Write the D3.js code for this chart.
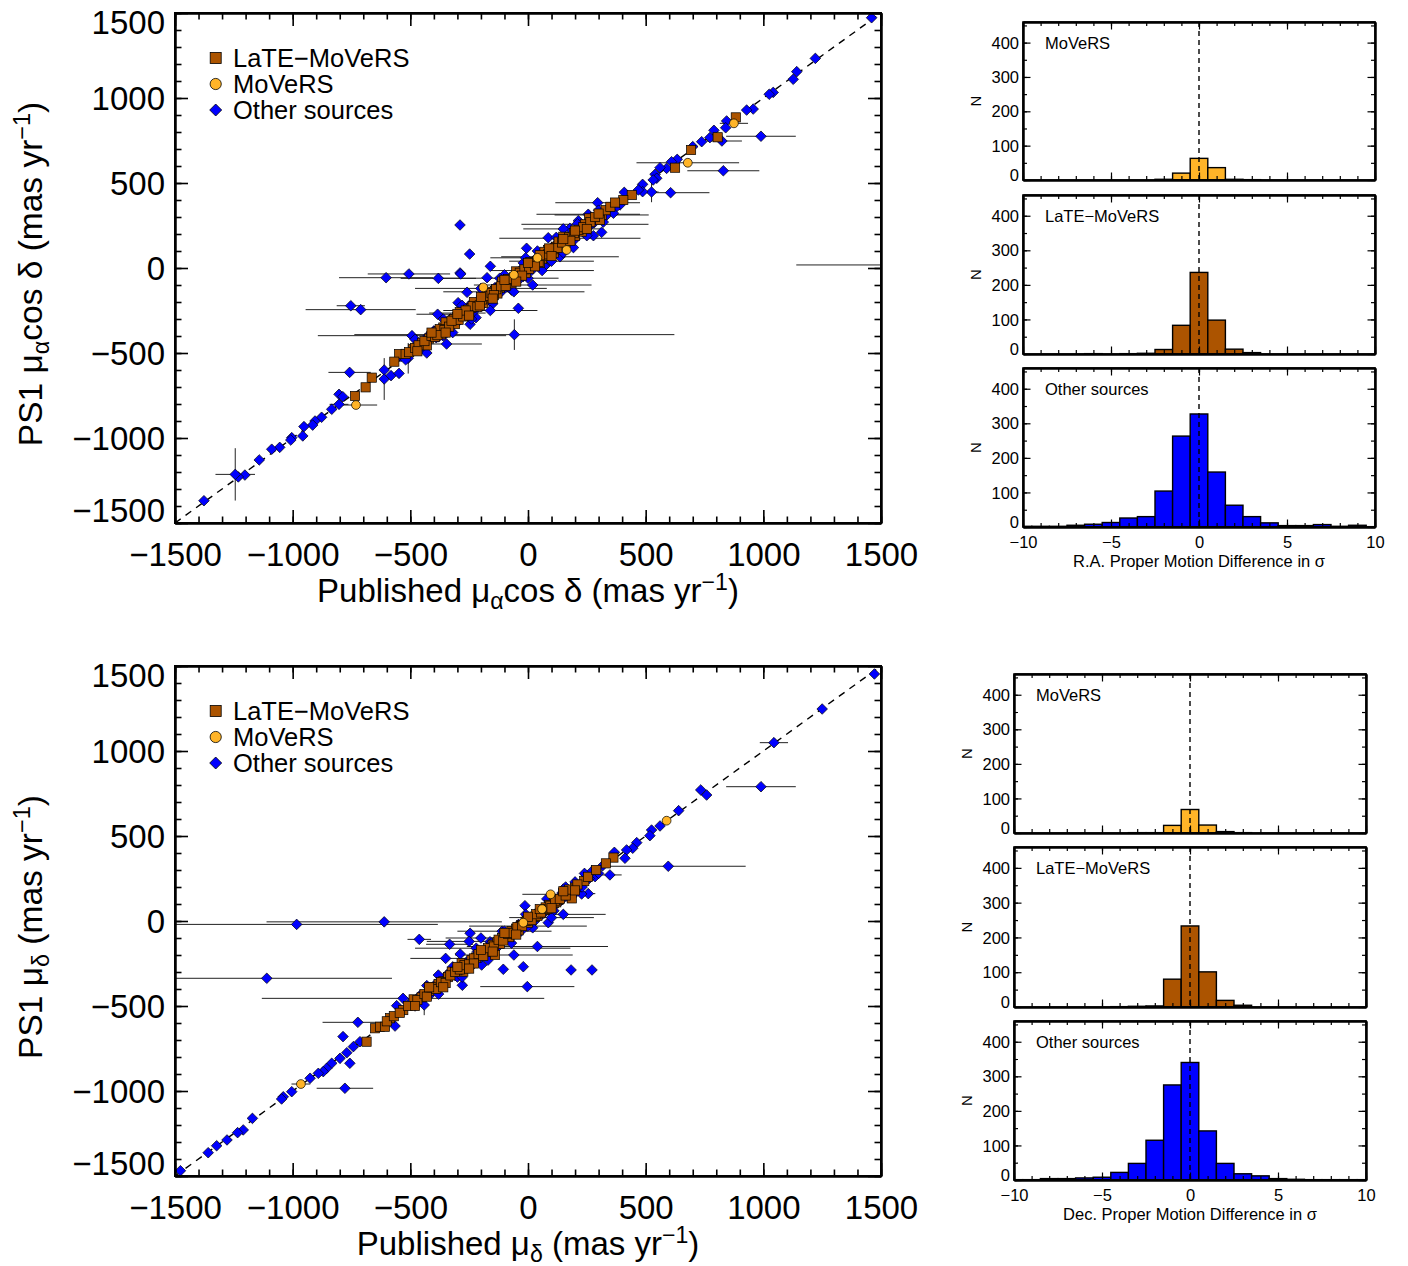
<!DOCTYPE html>
<html><head><meta charset="utf-8">
<script src="https://cdn.jsdelivr.net/npm/d3@7"></script>
<style>body{margin:0;background:#fff}svg{font-family:"Liberation Sans",Arial,Helvetica,sans-serif}</style>
</head><body><svg id="c" width="1408" height="1266"></svg>
<script>
// ---------------- DATA ----------------
// scatter points: [published, PS1, xerr, yerr]
const raLate = [[-664,-645],[-690,-702],[-735,-753],[-548,-506],[-568,-551],[-489,-478],[883,886],[806,769],[693,694],[625,590],[441,429],[405,400],[313,312,200,0],[259,292],[306,282],[242,257,270,0],[228,214],[150,184],[86,106],
 [-450,-440],[-420,-415],[-400,-390],[-380,-372],[-360,-350],[-340,-335],[-320,-318],[-300,-290],[-280,-275],[-260,-262],[-240,-235],[-220,-215],[-200,-190],[-180,-178],[-160,-160],[-140,-135],[-120,-118],[-100,-95],[-80,-82],[-60,-55],[-40,-38],[-20,-22],[0,5],[20,15],[40,42],[60,55],[80,78],[100,98],[120,125],[140,135],[170,165],[200,190],[-430,-455],[-370,-390],[-310,-330],[-250,-270],[-190,-205],[-130,-150],[-70,-90],[-10,-30],[50,30],[110,90],[160,140],[-350,-320],[-290,-260],[-230,-200],[-170,-140],[-110,-80],[-50,-20],[10,35],[70,95],[130,155],
 [-520,-505],[-505,-495],[-480,-470],[-465,-455],[-440,-430],[-410,-400],[-395,-405],[-375,-360],[-355,-365],[-335,-345],[-315,-300],[-295,-305],[-275,-285],[-255,-245],[-235,-225],[-215,-228],[-195,-185],[-175,-165],[-155,-148],[-135,-125],[-115,-108],[-95,-105],[-75,-68],[-55,-62],[-35,-28],[-15,-8],[5,-5],[25,30],[45,35],[65,70],[85,80],[105,110],[125,118],[145,150],[175,180],[195,205],[215,225],[235,240],[265,270],[285,300],[330,340],[350,360],[370,385],[-25,-45],[-85,-65],[-145,-160],[-205,-220],[-265,-250],[-325,-310],[-385,-395],[30,10],[90,115],[180,160],
 [-470,-490],[-410,-380],[-350,-380],[-300,-270],[-250,-280],[-200,-170],[-150,-180],[-100,-70],[-50,-80],[0,30],[50,75],[100,70],[150,170],[200,220],[250,230],[300,320]];
const raMovers = [[-190,-114],[-731,-806,90,0],[875,851,60,0],[679,619,218,0],[164,106],[-60,-40],[40,60]];
const raOther = [[-289,253],[-248,82],[-160,10],[-289,-29],[-506,-35,175,0],[-603,-57,200,0],[-381,-61,160,0],[-286,-35],[-174,-57],[-753,-222,60,0],[-711,-245,234,0],[-259,-143],[-297,-204],[-384,-272,90,0],[-246,-331],[-221,-292],[-41,-237],[-58,-392,680,90],[-493,-398,400,0],[-346,-447,150,0],[-758,-614,90,0],[-611,-600],[-611,-653,0,123],[-582,-633],[-548,-620],[-509,-531,0,90],
 [-803,-743],[-787,-757],[-803,-802,40,0],[-834,-831],[-877,-878],[-905,-900],[-915,-924],[-952,-933],[-957,-988],[-1004,-998],[-1008,-1012],[-1055,-1055],[-1089,-1066],[-1142,-1129],[-1203,-1218],[-1231,-1229],[-1244,-1214,84,154],[-1377,-1369],
 [1460,1472],[1221,1233],[1142,1155],[1127,1110],[1042,1033],[1025,1022],[957,935],[929,929],[844,865],[840,825],[990,775,148,0],[790,810],[824,747,85,0],[773,767],[738,743],[700,714],[830,572,153,0],[634,639],[610,625],[589,586],[561,590],[540,551],[547,528],[532,518],[606,443,165,0],[525,447,30,60],[487,492],[487,449],[469,459],[409,445],[296,384,180,0],[391,371],[370,351],[363,322],[256,316,220,0],[214,278],[313,210],[278,190],[178,233],[178,175,300,0],[193,120],[136,66,250,0],[86,178],[-6,116],[72,14],[1720,18,580,0],
 [-470,-450],[-440,-470],[-390,-410],[-350,-370],[-330,-300],[-300,-320],[-270,-250],[-230,-255],[-210,-190],[-180,-200],[-150,-170],[-120,-100],[-90,-110],[-60,-70],[-30,-10],[-20,-50],[10,-10],[30,50],[50,20],[80,60],[100,120],[110,80],[150,150],[190,200],[220,230],[250,240],[-400,-370],[-360,-400],
 [-540,-520],[-520,-540],[-455,-480],[-425,-400],[-405,-380],[-380,-405],[-345,-360],[-325,-340],[-290,-275],[-260,-280],[-245,-215],[-200,-225],[-185,-160],[-165,-190],[-140,-115],[-110,-135],[-95,-75],[-75,-100],[-45,-25],[-35,-65],[-5,15],[15,-15],[35,20],[60,85],[90,65],[120,140],[140,110],[160,185],[200,170],[235,210],[260,245],[280,265],[330,305],[340,350],
 [-480,-420],[-430,-500],[-360,-300],[-320,-380],[-280,-220],[-240,-300],[-190,-130],[-150,-210],[-100,-40],[-70,-130],[-20,30],[0,-60],[40,100],[70,10],[120,180],[150,90],[210,260],[250,190],[300,340],[320,270],
 [-60,-140,300,0],[-120,-60,250,0],[-200,-120,280,0],[-160,-250,200,0],[20,-100,250,0],[-300,-265,120,0],[60,-15,220,0],[100,40,180,0],[-10,60,150,0],[150,230,170,0]];

const decLate = [[-686,-710],[-650,-631],[-629,-622],[-586,-572],[-608,-622],[-530,-524],[-486,-461],[-452,-449],[-324,-298],[-275,-298],[-282,-249],[-265,-278],[-197,-200],[-176,-180],[363,373],[331,339],[239,235],[200,196],[186,133],
 [-420,-410],[-400,-395],[-380,-370],[-360,-355],[-340,-330],[-300,-290],[-240,-230],[-220,-215],[-150,-140],[-130,-125],[-110,-100],[-90,-85],[-70,-60],[-50,-45],[-30,-25],[-10,-5],[10,15],[30,25],[50,45],[70,65],[90,95],[110,105],[130,125],[150,160],[-200,-185],[-160,-170],[-120,-135],[-80,-95],[-40,-55],[0,-10],[40,30],[80,70],[120,110],
 [-600,-590],[-570,-560],[-545,-540],[-510,-500],[-470,-465],[-440,-430],[-430,-445],[-410,-390],[-390,-400],[-370,-360],[-350,-365],[-330,-320],[-310,-300],[-290,-285],[-270,-260],[-250,-255],[-230,-220],[-210,-195],[-190,-205],[-170,-160],[-145,-150],[-125,-110],[-105,-115],[-85,-75],[-65,-70],[-45,-35],[-25,-30],[-5,0],[15,5],[35,40],[55,50],[75,80],[95,90],[115,120],[135,130],[160,150],[175,185],[210,215],[255,260],[290,300],[-140,-200],[-230,-250],
 [-480,-500],[-420,-390],[-360,-390],[-300,-270],[-250,-280],[-200,-170],[-150,-180],[-100,-70],[-50,-80],[0,25],[50,70],[100,75],[150,175],[200,180]];
const decMovers = [[-965,-959,40,0],[589,590],[96,157,120,0],[-20,-10],[60,70]];
const decOther = [[-983,-20,600,0],[-611,-5,500,0],[-1110,-337,532,0],[-531,-455,600,0],[-462,-108,50,0],[-333,-137,100,0],[-246,-72],[-288,-194],[-723,-596,150,0],[-786,-680],[-757,-837],[-778,-984,120,0],
 [-714,-710],[-770,-775],[-742,-739],[-799,-808],[-834,-837],[-856,-867],[-870,-886],[-891,-896],[-926,-925],[-1004,-1004],[-1040,-1034],[-1047,-1047],[-1171,-1161],[-1210,-1229],[-1234,-1245],[-1279,-1288],[-1323,-1322],[-1359,-1363],[-1477,-1469],
 [-565,-618],[-441,-494,0,60],[-558,-498],[-381,-318],[-279,-378],[-105,-284],[-20,-269],[-3,-386,200,0],[-197,-259],[-161,-122],[183,-288],[272,-288],
 [1472,1453],[1250,1247],[1045,1049,60,0],[990,790,148,0],[734,771],[759,741],[640,649],[561,559],[525,535],[518,502],[462,461],[445,428],[419,418],[412,369],[367,404],[596,322,329,0],[348,271,50,0],[317,325],[285,261],[249,266],[150,188],[256,161,30,0],[228,159],[150,39,180,0],[-13,90],[86,-10],
 [-350,-340],[-310,-320],[-250,-240],[-200,-215],[-140,-160],[-100,-80],[-60,-75],[-20,-35],[20,0],[60,40],[100,80],[140,120],[180,170],[220,200],[260,250],
 [-500,-480],[-480,-500],[-460,-440],[-420,-440],[-395,-375],[-360,-380],[-340,-310],[-300,-330],[-260,-240],[-240,-265],[-215,-180],[-180,-210],[-155,-130],[-130,-155],[-95,-70],[-75,-100],[-40,-20],[-30,-60],[5,20],[25,-5],[45,60],[70,50],[95,110],[120,100],[145,165],[170,140],[200,230],[230,200],[270,290],[300,280],
 [-430,-380],[-380,-430],[-320,-270],[-280,-330],[-220,-160],[-170,-230],[-110,-60],[-70,-130],[-10,40],[20,-40],[80,130],[110,60],[160,200],[190,150],[240,280],
 [-250,-120,180,0],[-150,-160,330,0],[-60,-200,250,0],[-200,-100,150,0],[40,-150,300,0],[-100,-60,200,0],[0,-30,250,0],[100,20,180,0],[-350,-220,150,0]];

// histogram counts, bins centred on -10 ... 10 (sigma)
const binCenters = [-10,-9,-8,-7,-6,-5,-4,-3,-2,-1,0,1,2,3,4,5,6,7,8,9,10];
const raHistMovers = [0,0,0,0,0,0,0,0,2,20,63,36,2,1,0,0,0,0,0,0,0];
const raHistLate   = [0,0,0,0,1,0,1,2,13,83,236,98,14,4,0,0,0,0,0,0,0];
const raHistOther  = [2,2,2,5,8,13,26,30,104,263,327,159,63,30,12,4,4,7,2,5,1];
const decHistMovers= [0,0,0,0,0,0,0,1,1,22,68,23,4,1,0,0,0,0,0,0,0];
const decHistLate  = [0,0,0,0,0,0,1,2,3,80,233,101,19,5,0,0,0,0,0,0,0];
const decHistOther = [1,1,4,4,6,8,22,48,115,275,340,142,48,18,12,4,2,1,1,1,1];

const scatterTicks = [-1500,-1000,-500,0,500,1000,1500];
const histXTicks = [-10,-5,0,5,10];
const histYTicks = [0,100,200,300,400];
const legendLabels = ['LaTE\u2212MoVeRS','MoVeRS','Other sources'];

// ---------------- DRAWING ----------------
const COL = {late:'#AC5400', movers:'#FFB428', other:'#0000FF'};
const svg = d3.select('#c');
const minus = d => String(d).replace('-', '\u2212');

function rich(sel, parts, fs){
  let cur = 0;
  parts.forEach(p=>{
    const t = sel.append('tspan').text(p.t);
    let target = 0, size = fs;
    if(p.sub){target = fs*0.22; size = fs*0.7;}
    if(p.sup){target = -fs*0.37; size = fs*0.7;}
    t.attr('font-size', size).attr('dy', target-cur);
    cur = target;
  });
}

function styleAxis(g, fs){
  g.attr('font-family', null).attr('font-size', fs);
  g.selectAll('.domain').attr('stroke','#000').attr('stroke-width',2);
  g.selectAll('.tick line').attr('stroke','#000');
  g.selectAll('.tick text').attr('fill','#000');
}

function boxAxes(x, y, o){
  const {x0,x1,y0,y1} = o;
  const g = svg.append('g');
  const mk = (axis, tr, vals, len, fmt, pad, fs) => {
    const a = g.append('g').attr('transform', tr)
      .call(axis.tickValues(vals).tickSizeInner(-len).tickSizeOuter(0).tickPadding(pad).tickFormat(fmt));
    styleAxis(a, fs);
    a.selectAll('.tick line').attr('stroke-width', o.tw);
    return a;
  };
  mk(d3.axisBottom(x), `translate(0,${y1})`, o.xMinor, o.minLen, '', 0, 10);
  mk(d3.axisTop(x), `translate(0,${y0})`, o.xMinor, o.minLen, '', 0, 10);
  mk(d3.axisLeft(y), `translate(${x0},0)`, o.yMinor, o.minLen, '', 0, 10);
  mk(d3.axisRight(y), `translate(${x1},0)`, o.yMinor, o.minLen, '', 0, 10);
  const b = mk(d3.axisBottom(x), `translate(0,${y1})`, o.xMajor, o.majLen, o.xFmt, o.xPad, o.fs);
  mk(d3.axisTop(x), `translate(0,${y0})`, o.xMajor, o.majLen, '', 0, 10);
  const l = mk(d3.axisLeft(y), `translate(${x0},0)`, o.yMajor, o.majLen, o.yFmt, o.yPad, o.fs);
  mk(d3.axisRight(y), `translate(${x1},0)`, o.yMajor, o.majLen, '', 0, 10);
  g.append('rect').attr('x',x0).attr('y',y0).attr('width',x1-x0).attr('height',y1-y0)
    .attr('fill','none').attr('stroke','#000').attr('stroke-width',o.bw);
  return {b,l};
}

const diamond = r => `M0,${-r}L${r},0L0,${r}L${-r},0Z`;

function scatterPanel(o){
  const x = d3.scaleLinear().domain([-1500,1500]).range([o.x0,o.x1]);
  const y = d3.scaleLinear().domain([-1500,1500]).range([o.y1,o.y0]);
  const cid = 'clip'+o.id;
  svg.append('clipPath').attr('id',cid).append('rect')
    .attr('x',o.x0).attr('y',o.y0).attr('width',o.x1-o.x0).attr('height',o.y1-o.y0);
  const p = svg.append('g').attr('clip-path',`url(#${cid})`);
  p.append('line').attr('x1',x(-1500)).attr('y1',y(-1500)).attr('x2',x(1500)).attr('y2',y(1500))
    .attr('stroke','#000').attr('stroke-width',1.4).attr('stroke-dasharray','7,6');
  const all = [].concat(o.other, o.late, o.movers);
  p.selectAll('.ex').data(all.filter(d=>d[2]>0)).join('line')
    .attr('x1',d=>x(d[0]-d[2])).attr('x2',d=>x(d[0]+d[2])).attr('y1',d=>y(d[1])).attr('y2',d=>y(d[1]))
    .attr('stroke','#222').attr('stroke-width',1);
  p.selectAll('.ey').data(all.filter(d=>d[3]>0)).join('line')
    .attr('x1',d=>x(d[0])).attr('x2',d=>x(d[0])).attr('y1',d=>y(d[1]-d[3])).attr('y2',d=>y(d[1]+d[3]))
    .attr('stroke','#222').attr('stroke-width',1);
  p.selectAll('.o').data(o.other).join('path')
    .attr('transform',d=>`translate(${x(d[0])},${y(d[1])})`).attr('d',diamond(5.3))
    .attr('fill',COL.other).attr('stroke','#000').attr('stroke-width',0.7);
  p.selectAll('.l').data(o.late).join('rect')
    .attr('x',d=>x(d[0])-4.6).attr('y',d=>y(d[1])-4.6).attr('width',9.2).attr('height',9.2)
    .attr('fill',COL.late).attr('stroke','#000').attr('stroke-width',0.7);
  p.selectAll('.m').data(o.movers).join('circle')
    .attr('cx',d=>x(d[0])).attr('cy',d=>y(d[1])).attr('r',4.4)
    .attr('fill',COL.movers).attr('stroke','#000').attr('stroke-width',0.7);

  const minor = d3.range(-1500,1501,100);
  const ax = boxAxes(x, y, {x0:o.x0,x1:o.x1,y0:o.y0,y1:o.y1, xMajor:scatterTicks, yMajor:scatterTicks,
    xMinor:minor, yMinor:minor, majLen:13, minLen:6.5, tw:1.6, bw:2, fs:33, xPad:20, yPad:10,
    xFmt:minus, yFmt:minus});
  ax.l.selectAll('.tick text').attr('dy', d => d===1500 ? '0.62em' : d===-1500 ? '-0.05em' : '0.34em');

  const lg = svg.append('g');
  legendLabels.forEach((t,i)=>{
    const cy = o.y0 + 45 + i*26, cx = 215.7;
    if(i===0) lg.append('rect').attr('x',cx-5.5).attr('y',cy-5.5).attr('width',11).attr('height',11)
      .attr('fill',COL.late).attr('stroke','#000').attr('stroke-width',0.8);
    if(i===1) lg.append('circle').attr('cx',cx).attr('cy',cy).attr('r',5.6)
      .attr('fill',COL.movers).attr('stroke','#000').attr('stroke-width',0.8);
    if(i===2) lg.append('path').attr('transform',`translate(${cx},${cy})`).attr('d',diamond(6))
      .attr('fill',COL.other).attr('stroke','#000').attr('stroke-width',0.8);
    lg.append('text').attr('x',233).attr('y',cy+8.5).attr('font-size',25.5).text(t);
  });
  const xt = svg.append('text').attr('x',(o.x0+o.x1)/2).attr('y',o.y1+79).attr('text-anchor','middle').attr('font-size',33);
  rich(xt, o.xTitle, 33);
  const yt = svg.append('text').attr('transform',`translate(42,${(o.y0+o.y1)/2+6}) rotate(-90)`).attr('text-anchor','middle').attr('font-size',33.5);
  rich(yt, o.yTitle, 33.5);
}

function histPanel(o){
  const x = d3.scaleLinear().domain([-10,10]).range([o.x0,o.x1]);
  const y = d3.scaleLinear().domain([0,460]).range([o.y1,o.y0]);
  const cid = 'hclip'+o.id;
  svg.append('clipPath').attr('id',cid).append('rect')
    .attr('x',o.x0).attr('y',o.y0).attr('width',o.x1-o.x0).attr('height',o.y1-o.y0);
  const p = svg.append('g').attr('clip-path',`url(#${cid})`);
  const bins = binCenters.map((c,i)=>({c, n:o.counts[i]})).filter(d=>d.n>0);
  p.selectAll('rect').data(bins).join('rect')
    .attr('x',d=>x(d.c-0.5)).attr('width',d=>x(d.c+0.5)-x(d.c-0.5))
    .attr('y',d=>y(d.n)).attr('height',d=>y(0)-y(d.n))
    .attr('fill',o.color).attr('stroke','#000').attr('stroke-width',1.4);
  p.append('line').attr('x1',x(0)).attr('x2',x(0)).attr('y1',o.y0).attr('y2',o.y1)
    .attr('stroke','#000').attr('stroke-width',1.4).attr('stroke-dasharray','5,4');
  const ax = boxAxes(x, y, {x0:o.x0,x1:o.x1,y0:o.y0,y1:o.y1, xMajor:histXTicks, yMajor:histYTicks,
    xMinor:d3.range(-10,11,1), yMinor:d3.range(0,451,50), majLen:7.5, minLen:4, tw:1.2, bw:1.6, fs:16.5,
    xPad:9, yPad:4, xFmt:o.showX ? minus : '', yFmt:minus});
  ax.l.selectAll('.tick text').attr('dy', d => d===0 ? '0.0em' : '0.34em');
  svg.append('text').attr('x',o.x0+22).attr('y',o.y0+27).attr('font-size',16.5).text(o.label);
  svg.append('text').attr('transform',`translate(${o.x0-42},${(o.y0+o.y1)/2}) rotate(-90)`)
    .attr('text-anchor','middle').attr('font-size',15).text('N');
  if(o.xTitle){
    svg.append('text').attr('x',(o.x0+o.x1)/2).attr('y',o.y1+40).attr('text-anchor','middle')
      .attr('font-size',16.5).text(o.xTitle);
  }
}

scatterPanel({id:'ra', x0:175,x1:881,y0:13,y1:523, late:raLate, movers:raMovers, other:raOther,
  xTitle:[{t:'Published \u03bc'},{t:'\u03b1',sub:true},{t:'cos \u03b4 (mas yr'},{t:'\u22121',sup:true},{t:')'}],
  yTitle:[{t:'PS1 \u03bc'},{t:'\u03b1',sub:true},{t:'cos \u03b4 (mas yr'},{t:'\u22121',sup:true},{t:')'}]});
scatterPanel({id:'dec', x0:175,x1:881,y0:666,y1:1176, late:decLate, movers:decMovers, other:decOther,
  xTitle:[{t:'Published \u03bc'},{t:'\u03b4',sub:true},{t:' (mas yr'},{t:'\u22121',sup:true},{t:')'}],
  yTitle:[{t:'PS1 \u03bc'},{t:'\u03b4',sub:true},{t:' (mas yr'},{t:'\u22121',sup:true},{t:')'}]});

const hTop = [[22,180],[195,354],[368,527]];
const hBot = [[674,833],[847,1007],[1021,1180]];
histPanel({id:'r1',x0:1023,x1:1375,y0:hTop[0][0],y1:hTop[0][1],counts:raHistMovers,color:COL.movers,label:'MoVeRS'});
histPanel({id:'r2',x0:1023,x1:1375,y0:hTop[1][0],y1:hTop[1][1],counts:raHistLate,color:COL.late,label:'LaTE\u2212MoVeRS'});
histPanel({id:'r3',x0:1023,x1:1375,y0:hTop[2][0],y1:hTop[2][1],counts:raHistOther,color:COL.other,label:'Other sources',showX:true,xTitle:'R.A. Proper Motion Difference in \u03c3'});
histPanel({id:'d1',x0:1014,x1:1366,y0:hBot[0][0],y1:hBot[0][1],counts:decHistMovers,color:COL.movers,label:'MoVeRS'});
histPanel({id:'d2',x0:1014,x1:1366,y0:hBot[1][0],y1:hBot[1][1],counts:decHistLate,color:COL.late,label:'LaTE\u2212MoVeRS'});
histPanel({id:'d3',x0:1014,x1:1366,y0:hBot[2][0],y1:hBot[2][1],counts:decHistOther,color:COL.other,label:'Other sources',showX:true,xTitle:'Dec. Proper Motion Difference in \u03c3'});
</script></body></html>
